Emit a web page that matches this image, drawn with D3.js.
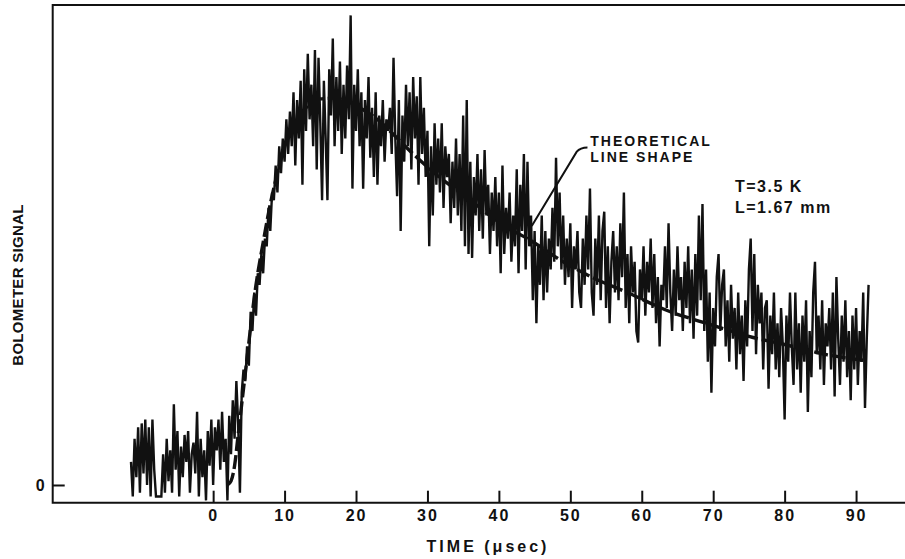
<!DOCTYPE html>
<html>
<head>
<meta charset="utf-8">
<script src="https://cdn.jsdelivr.net/npm/d3@7"></script>
<style>
  body { margin: 0; background: #fff; }
  svg { display: block; font-family: "Liberation Sans", Arial, sans-serif; }
  .lbl { font-weight: bold; fill: #111; }
</style>
</head>
<body>
<svg id="chart" width="905" height="559"></svg>
<script>
// measured bolometer trace, sampled every 0.25 µsec starting at -11.5 µsec
const sampleStart = -11.5;
const sampleStep = 0.25;
const signal = [
  6, -3, 12, 2,
  15, -2, 16, 3,
  17, 0, 15, -3,
  17, 4, -3, -3,
  -3, -3, 8, -2,
  12, 1, 9, -2,
  21, 4, 14, -3,
  10, 2, 13, 6,
  14, -2, 8, 11,
  3, 19, -3, 12,
  2, 9, -4, 14,
  5, 17, 0, 15,
  9, 17, 4, 19,
  6, 12, -4, 18,
  8, 22, 12, 27,
  16, -2, 24, 30,
  27, 36, 31, 45,
  40, 50, 44, 55,
  52, 60, 55, 64,
  62, 72, 66, 76,
  74, 83, 76, 88,
  81, 90, 84, 95,
  86, 97, 88, 102,
  83, 100, 90, 105,
  78, 108, 92, 112,
  95, 104, 88, 113,
  82, 111, 94, 74,
  105, 90, 74, 108,
  96, 116, 88, 106,
  92, 110, 86, 104,
  90, 109, 95, 122,
  77, 104, 92, 108,
  88, 102, 77, 100,
  90, 106, 85, 98,
  80, 102, 78, 96,
  88, 100, 84, 95,
  92, 98, 86, 111,
  90, 75, 100, 66,
  96, 84, 104, 88,
  102, 82, 106, 90,
  101, 78, 106, 86,
  98, 80, 92, 62,
  88, 70, 94, 78,
  90, 76, 94, 72,
  88, 80, 86, 68,
  84, 72, 90, 70,
  86, 66, 96, 62,
  100, 60, 84, 59,
  80, 70, 86, 66,
  82, 64, 87, 70,
  78, 60, 76, 66,
  80, 62, 76, 55,
  83, 60, 72, 64,
  76, 58, 70, 62,
  82, 55, 78, 66,
  86, 56, 84, 62,
  70, 48, 66, 42,
  62, 52, 70, 48,
  66, 50, 64, 56,
  72, 58, 85, 62,
  76, 56, 70, 52,
  64, 54, 68, 46,
  62, 56, 66, 50,
  46, 64, 52, 70,
  56, 77, 50, 44,
  64, 52, 70, 48,
  66, 71, 46, 62,
  42, 58, 66, 50,
  62, 48, 68, 54,
  76, 46, 60, 42,
  62, 50, 58, 40,
  37, 56, 48, 62,
  44, 58, 50, 64,
  46, 60, 42, 54,
  36, 52, 48, 62,
  46, 68, 50, 40,
  56, 44, 62, 48,
  54, 40, 58, 46,
  62, 42, 56, 38,
  60, 44, 70, 48,
  73, 40, 56, 32,
  50, 24, 46, 36,
  54, 60, 40, 52,
  56, 36, 48, 32,
  52, 38, 46, 30,
  50, 34, 44, 27,
  48, 36, 56, 64,
  40, 60, 34, 52,
  42, 50, 30, 46,
  48, 25, 44, 34,
  50, 30, 42, 28,
  46, 36, 17, 44,
  32, 50, 36, 26,
  50, 30, 42, 24,
  44, 32, 48, 19,
  40, 28, 50, 58,
  34, 44, 30, 48,
  26, 42, 36, 46,
  30, 50, 23, 54,
  38, 26, 44, 32,
  48, 28, 40, 22,
  44, 30, 46, 26,
  40, 32, 50, 20,
  38, 52
];

// theoretical line shape
const theoryTime  = [2, 2.5, 3, 3.5, 4, 4.5, 5, 5.5, 6, 7, 8, 9, 10, 11, 12, 13, 14, 15, 17, 19, 21, 23, 25, 28, 31, 36, 41, 44, 49, 53, 58, 64, 68, 72, 75, 80, 86, 91.5];
const theoryValue = [0, 1, 5, 13, 21, 29, 37, 45, 52, 63, 73, 81, 88, 93, 96, 98, 99.5, 100.3, 100.5, 99.5, 97.5, 95, 91.5, 86, 81, 74, 67, 64, 58, 54, 50, 45, 42.6, 40.3, 38.6, 36.5, 33.8, 32.3];

const xTicks = [0, 10, 20, 30, 40, 50, 60, 70, 80, 90];
const yTicks = [0];

const svg = d3.select("#chart");
svg.append("rect").attr("width", 905).attr("height", 559).attr("fill", "#fff");

const x = d3.scaleLinear().domain([-22.46, 96.85]).range([52.7, 905]);
const y = d3.scaleLinear().domain([-4.6, 124.7]).range([502.7, 5]);

const trace = signal.map((v, i) => ({ t: sampleStart + i * sampleStep, v: v }));
const theory = theoryTime.map((t, i) => ({ t: t, v: theoryValue[i] }));

// theoretical curve (under the data)
svg.append("path")
  .datum(theory)
  .attr("fill", "none")
  .attr("stroke", "#111")
  .attr("stroke-width", 3.4)
  .attr("stroke-dasharray", "14,4")
  .attr("d", d3.line().x(d => x(d.t)).y(d => y(d.v)).curve(d3.curveMonotoneX));

// measured signal
svg.append("path")
  .datum(trace)
  .attr("fill", "none")
  .attr("stroke", "#111")
  .attr("stroke-width", 2.4)
  .attr("stroke-linejoin", "miter")
  .attr("d", d3.line().x(d => x(d.t)).y(d => y(d.v)));

// frame: top, left, bottom
svg.append("path")
  .attr("fill", "none")
  .attr("stroke", "#111")
  .attr("stroke-width", 2)
  .attr("d", `M${x.range()[1]},${y.range()[1]}H${x.range()[0]}V${y.range()[0]}H${x.range()[1]}`);

let xAxis = svg.append("g")
  .attr("transform", `translate(0,${y.range()[0]})`)
  .call(d3.axisBottom(x).tickValues(xTicks).tickSize(-12).tickPadding(7));
xAxis.select(".domain").remove();
xAxis.selectAll("line").attr("stroke", "#111").attr("stroke-width", 2);
xAxis.selectAll("text")
  .attr("class", "lbl")
  .attr("font-size", 16)
  .attr("font-family", "Liberation Sans, Arial, sans-serif")
  .style("letter-spacing", "2px");

let yAxis = svg.append("g")
  .attr("transform", `translate(${x.range()[0]},0)`)
  .call(d3.axisLeft(y).tickValues(yTicks).tickSize(-12).tickPadding(8));
yAxis.select(".domain").remove();
yAxis.selectAll("line").attr("stroke", "#111").attr("stroke-width", 2);
yAxis.selectAll("text")
  .attr("class", "lbl")
  .attr("font-size", 16)
  .attr("font-family", "Liberation Sans, Arial, sans-serif");

// axis titles
svg.append("text")
  .attr("class", "lbl")
  .attr("x", 488)
  .attr("y", 552)
  .attr("text-anchor", "middle")
  .attr("font-size", 16)
  .style("letter-spacing", "3px")
  .text("TIME (μsec)");

svg.append("text")
  .attr("class", "lbl")
  .attr("transform", "translate(23,285) rotate(-90)")
  .attr("text-anchor", "middle")
  .attr("font-size", 15)
  .style("letter-spacing", "0.3px")
  .text("BOLOMETER SIGNAL");

// annotation for the theoretical curve
svg.append("path")
  .attr("fill", "none")
  .attr("stroke", "#111")
  .attr("stroke-width", 2)
  .attr("d", `M${x(52.4)},${y(87.7)} Q${x(51.4)},${y(87.7)} ${x(50.9)},${y(86.6)} L${x(44.6)},${y(67.3)}`);

svg.append("text")
  .attr("class", "lbl")
  .attr("x", x(52.8)).attr("y", 146)
  .attr("font-size", 14)
  .style("letter-spacing", "2px")
  .text("THEORETICAL");
svg.append("text")
  .attr("class", "lbl")
  .attr("x", x(52.8)).attr("y", 162)
  .attr("font-size", 14)
  .style("letter-spacing", "2px")
  .text("LINE SHAPE");

svg.append("text")
  .attr("class", "lbl")
  .attr("x", 735).attr("y", 192)
  .attr("font-size", 16)
  .style("letter-spacing", "1.5px")
  .text("T=3.5 K");
svg.append("text")
  .attr("class", "lbl")
  .attr("x", 735).attr("y", 213)
  .attr("font-size", 16)
  .style("letter-spacing", "1.5px")
  .text("L=1.67 mm");
</script>
</body>
</html>
